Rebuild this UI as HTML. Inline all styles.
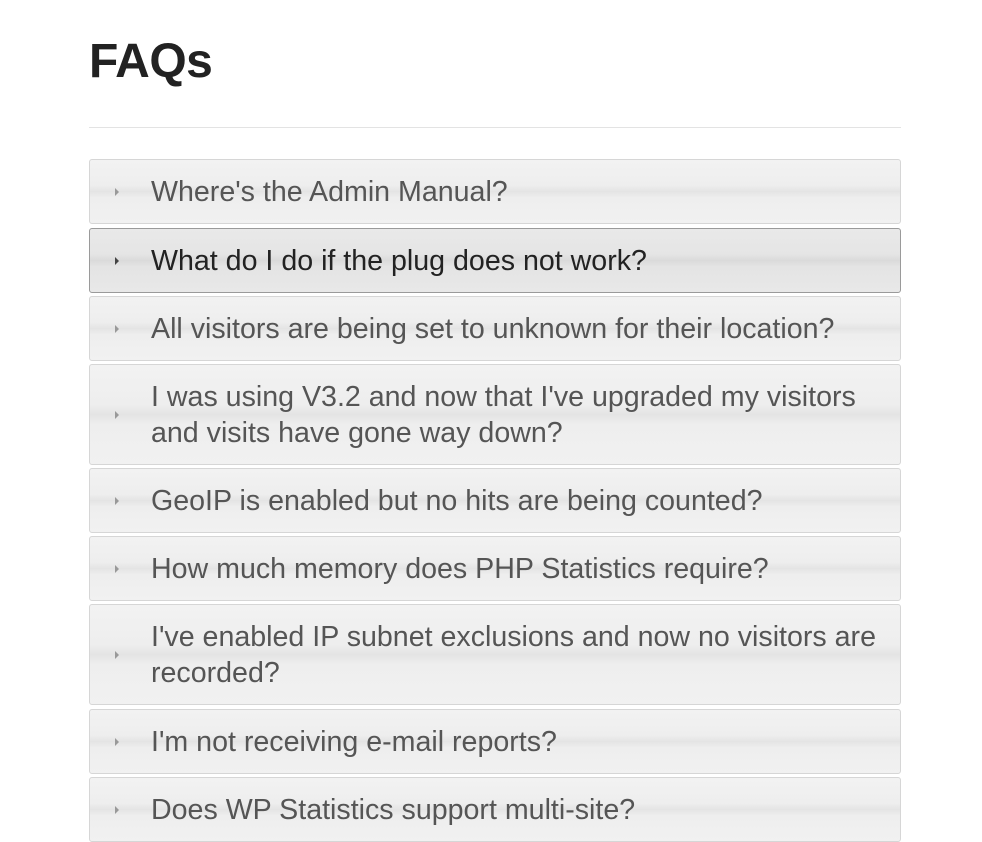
<!DOCTYPE html>
<html><head><meta charset="utf-8">
<style>
body{margin:0;background:#fff;font-family:"Liberation Sans",sans-serif;width:982px;height:842px;overflow:hidden;position:relative}
h1{position:absolute;left:89px;top:34px;margin:0;font-size:48px;font-weight:bold;color:#222;letter-spacing:-0.5px}
.rule{position:absolute;left:89px;top:127px;width:812px;height:1px;background:#e3e3e3}
.item{position:absolute;left:89px;border:1px solid #d6d6d6;border-radius:3px;
background:linear-gradient(#f2f2f2 0%,#eeeeee 40%,#e4e4e4 50%,#eeeeee 60%,#f1f1f1 100%);box-sizing:border-box;width:812px}
.item.active{border-color:#9a9a9a;background:linear-gradient(#e9e9e9 0%,#e5e5e5 40%,#dadada 50%,#e4e4e4 60%,#e8e8e8 100%)}
.item .arr{position:absolute;left:25px;top:50%;margin-top:-4px;width:0;height:0;border-left:4px solid #999;border-top:4px solid transparent;border-bottom:4px solid transparent}
.item.active .arr{border-left-color:#444}
.item .q{position:absolute;left:61px;right:14px;top:50%;transform:translateY(-50%);font-size:28.6px;line-height:36px;color:#555}
.item.active .q{color:#222}
</style></head><body>
<h1>FAQs</h1>
<div class="rule"></div>
<div class="item" style="top:159px;height:65px"><div class="arr"></div><div class="q">Where's the Admin Manual?</div></div>
<div class="item active" style="top:228px;height:65px"><div class="arr"></div><div class="q">What do I do if the plug does not work?</div></div>
<div class="item" style="top:296px;height:65px"><div class="arr"></div><div class="q">All visitors are being set to unknown for their location?</div></div>
<div class="item" style="top:364px;height:101px"><div class="arr"></div><div class="q">I was using V3.2 and now that I've upgraded my visitors<br>and visits have gone way down?</div></div>
<div class="item" style="top:468px;height:65px"><div class="arr"></div><div class="q">GeoIP is enabled but no hits are being counted?</div></div>
<div class="item" style="top:536px;height:65px"><div class="arr"></div><div class="q">How much memory does PHP Statistics require?</div></div>
<div class="item" style="top:604px;height:101px"><div class="arr"></div><div class="q">I've enabled IP subnet exclusions and now no visitors are<br>recorded?</div></div>
<div class="item" style="top:709px;height:65px"><div class="arr"></div><div class="q">I'm not receiving e-mail reports?</div></div>
<div class="item" style="top:777px;height:65px"><div class="arr"></div><div class="q">Does WP Statistics support multi-site?</div></div>
</body></html>
